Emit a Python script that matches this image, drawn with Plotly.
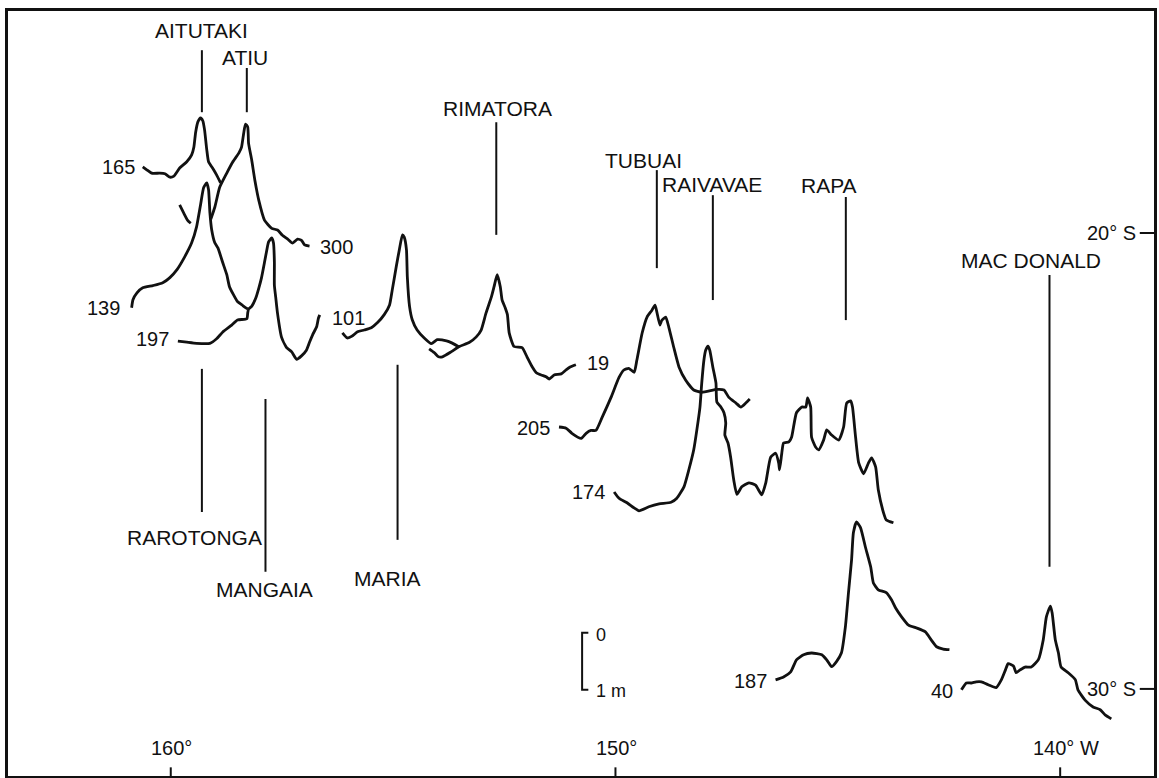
import plotly.graph_objects as go

# Vertical exaggeration: one metre of geoid height is drawn as this many degrees of latitude
VSCALE = 1.25

# ---- Geoid profiles: longitude (deg W) and geoid height (m) above each track's base level ----
BASE_165 = 18.55
LON_165 = [160.63, 160.54, 160.43, 160.25, 160.13, 160.02, 159.93, 159.80, 159.64, 159.53,
           159.48, 159.44, 159.39, 159.33, 159.28, 159.24, 159.19, 159.15, 159.06, 158.97, 158.88]
H_165 = [0.00, -0.05, -0.11, -0.11, -0.12, -0.18, -0.16, -0.02, 0.09, 0.21,
         0.35, 0.61, 0.79, 0.86, 0.81, 0.65, 0.30, 0.09, -0.02, -0.14, -0.28]

BASE_300 = 20.31
LON_300 = [159.80, 159.71, 159.62, 159.55, None,
           159.10, 159.01, 158.90, 158.74, 158.61, 158.47, 158.41, 158.36, 158.32, 158.27,
           158.25, 158.18, 158.11, 158.02, 157.89, 157.73, 157.60, 157.49, 157.37, 157.26,
           157.15, 157.06, 156.99, 156.88]
H_300 = [0.74, 0.60, 0.47, 0.42, None,
         0.49, 0.70, 1.05, 1.30, 1.49, 1.65, 1.75, 2.00, 2.16, 2.11,
         1.82, 1.53, 1.18, 0.82, 0.47, 0.33, 0.30, 0.21, 0.14, 0.07,
         0.14, 0.12, 0.04, 0.02]

BASE_139 = 21.64
LON_139 = [160.88, 160.85, 160.76, 160.63, 160.40, 160.18, 160.02, 159.86, 159.69, 159.53,
           159.42, 159.33, 159.26, 159.19, 159.15, 159.12, 159.08, 159.01, 158.94, 158.83,
           158.74, 158.68, 158.59, 158.50, 158.38, 158.27]
H_139 = [0.00, 0.14, 0.26, 0.35, 0.39, 0.44, 0.53, 0.67, 0.89, 1.14,
         1.42, 1.81, 2.11, 2.19, 2.07, 1.67, 1.37, 1.14, 1.05, 0.79,
         0.58, 0.37, 0.23, 0.11, 0.04, -0.02]

BASE_197 = 22.37
LON_197 = [159.84, 159.64, 159.42, 159.12, 158.97, 158.83, 158.63, 158.50, 158.29, 158.27,
           158.25, 158.18, 158.09, 158.02, 157.96, 157.89, 157.84, 157.80, 157.73, 157.69,
           157.67, 157.67, 157.64, 157.60, 157.51, 157.40, 157.28, 157.17, 157.06, 156.95,
           156.88, 156.81, 156.72, 156.68, 156.65]
H_197 = [0.00, -0.02, -0.04, -0.04, 0.04, 0.16, 0.28, 0.37, 0.39, 0.49,
         0.56, 0.61, 0.75, 0.93, 1.11, 1.39, 1.60, 1.74, 1.81, 1.72,
         1.39, 0.98, 0.77, 0.49, 0.07, -0.11, -0.19, -0.32, -0.26, -0.16,
         -0.02, 0.11, 0.25, 0.40, 0.46]

BASE_101 = 22.19
LON_101 = [156.14, 156.03, 155.91, 155.80, 155.65, 155.49, 155.35, 155.20, 155.08, 155.02,
           154.93, 154.86, 154.79, 154.75, 154.70, 154.68, 154.63, 154.57, 154.46, 154.30,
           154.14, 154.01, 153.80, 153.67, 153.51]
H_101 = [0.00, -0.09, -0.05, 0.02, 0.05, 0.09, 0.18, 0.32, 0.49, 0.75,
         1.16, 1.46, 1.72, 1.68, 1.46, 0.98, 0.46, 0.23, 0.05, -0.09,
         -0.19, -0.12, -0.14, -0.18, -0.25]

BASE_19 = 22.89
LON_19 = [154.19, 154.07, 153.98, 153.89, 153.69, 153.51, 153.29, 153.13, 153.02, 152.91,
          152.79, 152.73, 152.66, 152.59, 152.55, 152.48, 152.43, 152.39, 152.28, 152.10,
          151.99, 151.87, 151.78, 151.67, 151.56, 151.49, 151.38, 151.22, 151.11, 151.02, 150.89]
H_19 = [0.28, 0.21, 0.14, 0.14, 0.23, 0.32, 0.39, 0.49, 0.61, 0.91,
        1.19, 1.37, 1.58, 1.37, 1.14, 1.00, 0.88, 0.56, 0.32, 0.30,
        0.14, -0.04, -0.14, -0.18, -0.21, -0.25, -0.18, -0.16, -0.09, -0.04, 0.00]

BASE_205 = 24.28
LON_205 = [151.27, 151.11, 150.98, 150.77, 150.66, 150.55, 150.44, 150.30, 150.10, 149.92,
           149.81, 149.70, 149.58, 149.52, 149.40, 149.29, 149.18, 149.11, 149.07, 149.00,
           148.96, 148.87, 148.80, 148.69, 148.57, 148.42, 148.24, 148.06, 147.72, 147.56,
           147.45, 147.29, 147.18, 147.07, 146.98]
H_205 = [0.02, 0.00, -0.09, -0.18, -0.09, -0.04, -0.04, 0.19, 0.54, 0.89,
         1.02, 1.05, 0.98, 1.19, 1.67, 1.95, 2.07, 2.16, 2.04, 1.81,
         1.89, 1.95, 1.77, 1.42, 1.07, 0.84, 0.67, 0.63, 0.68, 0.67,
         0.54, 0.44, 0.37, 0.44, 0.51]

BASE_174 = 25.68
LON_174 = [150.03, 149.92, 149.74, 149.58, 149.47, 149.25, 149.02, 148.75, 148.62, 148.46,
           148.35, 148.24, 148.17, 148.10, 148.06, 148.01, 147.97, 147.92, 147.88, 147.81,
           147.74, 147.72, 147.63, 147.56, 147.52, 147.54, 147.47, 147.41, 147.34, 147.27,
           147.16, 147.00, 146.85, 146.71, 146.62, 146.51, 146.40, 146.33, 146.31, 146.26,
           146.22, 146.10, 146.04, 145.93, 145.81, 145.72, 145.68, 145.61, 145.59, 145.50,
           145.43, 145.32, 145.25, 145.14, 144.98, 144.87, 144.80, 144.71, 144.67, 144.60,
           144.53, 144.42, 144.31, 144.24, 144.15, 144.09, 143.97, 143.91, 143.75]
H_174 = [0.00, -0.11, -0.19, -0.28, -0.33, -0.26, -0.21, -0.18, -0.11, 0.09,
         0.39, 0.74, 1.09, 1.49, 1.91, 2.32, 2.49, 2.56, 2.49, 2.19,
         1.91, 1.58, 1.49, 1.39, 1.21, 1.00, 0.86, 0.61, 0.21, -0.04,
         0.09, 0.16, 0.12, -0.05, 0.16, 0.61, 0.68, 0.51, 0.39, 0.68,
         0.86, 0.88, 0.96, 1.39, 1.49, 1.49, 1.65, 1.49, 0.96, 0.79,
         0.74, 0.91, 1.09, 1.00, 0.91, 1.14, 1.56, 1.60, 1.49, 0.96,
         0.51, 0.32, 0.51, 0.60, 0.44, 0.04, -0.37, -0.49, -0.54]

BASE_187 = 29.80
LON_187 = [146.40, 146.22, 146.06, 145.93, 145.77, 145.59, 145.36, 145.25, 145.14, 145.03,
           144.92, 144.83, 144.76, 144.69, 144.65, 144.58, 144.49, 144.38, 144.26, 144.20,
           144.09, 143.91, 143.79, 143.70, 143.57, 143.41, 143.23, 143.03, 142.90, 142.78,
           142.63, 142.49]
H_187 = [0.00, 0.05, 0.14, 0.35, 0.44, 0.47, 0.44, 0.35, 0.23, 0.32,
         0.47, 0.93, 1.53, 2.11, 2.58, 2.77, 2.67, 2.33, 1.98, 1.70,
         1.58, 1.53, 1.40, 1.26, 1.11, 0.96, 0.91, 0.84, 0.70, 0.58,
         0.54, 0.53]

BASE_40 = 30.02
LON_40 = [142.22, 142.11, 142.00, 141.89, 141.77, 141.62, 141.44, 141.32, 141.23, 141.17,
          141.05, 140.99, 140.90, 140.79, 140.65, 140.49, 140.38, 140.31, 140.22, 140.18,
          140.11, 140.04, 139.98, 139.82, 139.66, 139.60, 139.44, 139.26, 139.10, 138.99, 138.85]
H_40 = [0.00, 0.12, 0.12, 0.14, 0.14, 0.09, 0.04, 0.18, 0.35, 0.46,
        0.42, 0.30, 0.35, 0.40, 0.40, 0.53, 0.88, 1.28, 1.47, 1.35,
        0.88, 0.65, 0.40, 0.30, 0.18, 0.00, -0.18, -0.30, -0.35, -0.44, -0.51]

# Track numbers and where they are written (longitude, latitude, anchor side)
TRACK_LABELS = ["165", "139", "197", "300", "101", "19", "205", "174", "187", "40"]
TRACK_LABEL_LON = [160.76, 161.10, 160.00, 156.70, 156.43, 150.68, 151.42, 150.19, 146.55, 142.36]
TRACK_LABEL_LAT = [18.55, 21.64, 22.32, 20.31, 21.86, 22.85, 24.28, 25.68, 29.82, 30.04]
TRACK_LABEL_SIDE = ["right", "right", "right", "left", "left", "left", "right", "right", "right", "right"]

# Islands: leader line longitude and extent, label position
ISLANDS = ["AITUTAKI", "ATIU", "RIMATORA", "TUBUAI", "RAIVAVAE", "RAPA", "MAC DONALD",
           "RAROTONGA", "MANGAIA", "MARIA"]
ISLAND_LON = [159.30, 158.29, 152.68, 149.07, 147.81, 144.82, 140.24, 159.30, 157.87, 154.90]
LEADER_TOP = [15.99, 16.38, 17.57, 18.62, 19.17, 19.21, 20.92, 22.98, 23.64, 22.89]
LEADER_BOTTOM = [17.35, 17.35, 20.04, 20.77, 21.47, 21.91, 27.32, 26.12, 27.43, 26.73]
ISLAND_LABEL_LON = [159.30, 158.32, 152.66, 149.36, 147.83, 145.19, 140.65, 159.46, 157.89, 155.13]
ISLAND_LABEL_LAT = [15.55, 16.16, 17.26, 18.40, 18.93, 18.95, 20.61, 26.67, 27.83, 27.57]

# Graticule ticks on the frame
LON_TICKS = [160, 150, 140]
LON_TICK_TEXT = ["160°", "150°", "140° W"]
LAT_TICKS = [20, 30]
LAT_TICK_TEXT = ["20° S", "30° S"]

# Height scale bar (0 to 1 m)
SCALE_BAR_LON = 150.75
SCALE_BAR_TOP = 28.77
SCALE_BAR_M = 1.0

X_RANGE = [163.66, 137.89]
Y_RANGE = [31.91, 15.13]

INK = "#111111"
FONT = dict(family="Liberation Sans, Arial, Helvetica, sans-serif", size=20, color=INK)
NAME_FONT = dict(FONT, size=21)

fig = go.Figure()


def add_line(xs, ys, width, smooth=False):
    line = dict(color=INK, width=width)
    if smooth:
        line.update(shape="spline", smoothing=0.5)
    fig.add_trace(go.Scatter(x=xs, y=ys, mode="lines", line=line,
                             hoverinfo="skip", showlegend=False))


def profile_y(base, heights):
    return [None if h is None else base - h * VSCALE for h in heights]


profiles = [
    (LON_165, H_165, BASE_165), (LON_300, H_300, BASE_300), (LON_139, H_139, BASE_139),
    (LON_197, H_197, BASE_197), (LON_101, H_101, BASE_101), (LON_19, H_19, BASE_19),
    (LON_205, H_205, BASE_205), (LON_174, H_174, BASE_174), (LON_187, H_187, BASE_187),
    (LON_40, H_40, BASE_40),
]
for lons, hs, base in profiles:
    add_line(lons, profile_y(base, hs), 2.8, smooth=True)

# Island leader lines and names
for name, lon, top, bot, llon, llat in zip(ISLANDS, ISLAND_LON, LEADER_TOP, LEADER_BOTTOM,
                                           ISLAND_LABEL_LON, ISLAND_LABEL_LAT):
    add_line([lon, lon], [top, bot], 2)
    fig.add_annotation(x=llon, y=llat, text=name, showarrow=False, font=NAME_FONT,
                       xanchor="center", yanchor="middle")

# Track numbers
for txt, lon, lat, side in zip(TRACK_LABELS, TRACK_LABEL_LON, TRACK_LABEL_LAT, TRACK_LABEL_SIDE):
    fig.add_annotation(x=lon, y=lat, text=txt, showarrow=False, font=FONT,
                       xanchor="right" if side == "right" else "left", yanchor="middle")

# Longitude ticks along the bottom edge
for lon, txt in zip(LON_TICKS, LON_TICK_TEXT):
    add_line([lon, lon], [Y_RANGE[0], Y_RANGE[0] - 0.19], 2)
    fig.add_annotation(x=lon, y=Y_RANGE[0] - 0.33, text=txt, showarrow=False, font=FONT,
                       xanchor="center", yanchor="bottom",
                       xshift=6 if "W" in txt else 1)

# Latitude ticks along the right edge
for lat, txt in zip(LAT_TICKS, LAT_TICK_TEXT):
    add_line([X_RANGE[1] + 0.32, X_RANGE[1]], [lat, lat], 2)
    fig.add_annotation(x=X_RANGE[1] + 0.36, y=lat, text=txt, showarrow=False, font=FONT,
                       xanchor="right", yanchor="middle")

# Scale bar
bar_bottom = SCALE_BAR_TOP + SCALE_BAR_M * VSCALE
add_line([SCALE_BAR_LON - 0.14, SCALE_BAR_LON, SCALE_BAR_LON, SCALE_BAR_LON - 0.14],
         [SCALE_BAR_TOP, SCALE_BAR_TOP, bar_bottom, bar_bottom], 2)
fig.add_annotation(x=SCALE_BAR_LON - 0.26, y=SCALE_BAR_TOP + 0.05, text="0", showarrow=False,
                   font=dict(FONT, size=18), xanchor="left", yanchor="middle")
fig.add_annotation(x=SCALE_BAR_LON - 0.26, y=bar_bottom + 0.02, text="1 m", showarrow=False,
                   font=dict(FONT, size=18), xanchor="left", yanchor="middle")

axis_style = dict(showgrid=False, zeroline=False, showticklabels=False, ticks="",
                  showline=True, mirror=True, linecolor=INK, linewidth=3)
fig.update_layout(
    width=1159, height=778,
    margin=dict(l=8, r=3, t=11, b=2),
    paper_bgcolor="white", plot_bgcolor="white",
    xaxis=dict(range=X_RANGE, **axis_style),
    yaxis=dict(range=Y_RANGE, **axis_style),
    showlegend=False,
)

fig.write_html("out.html")
